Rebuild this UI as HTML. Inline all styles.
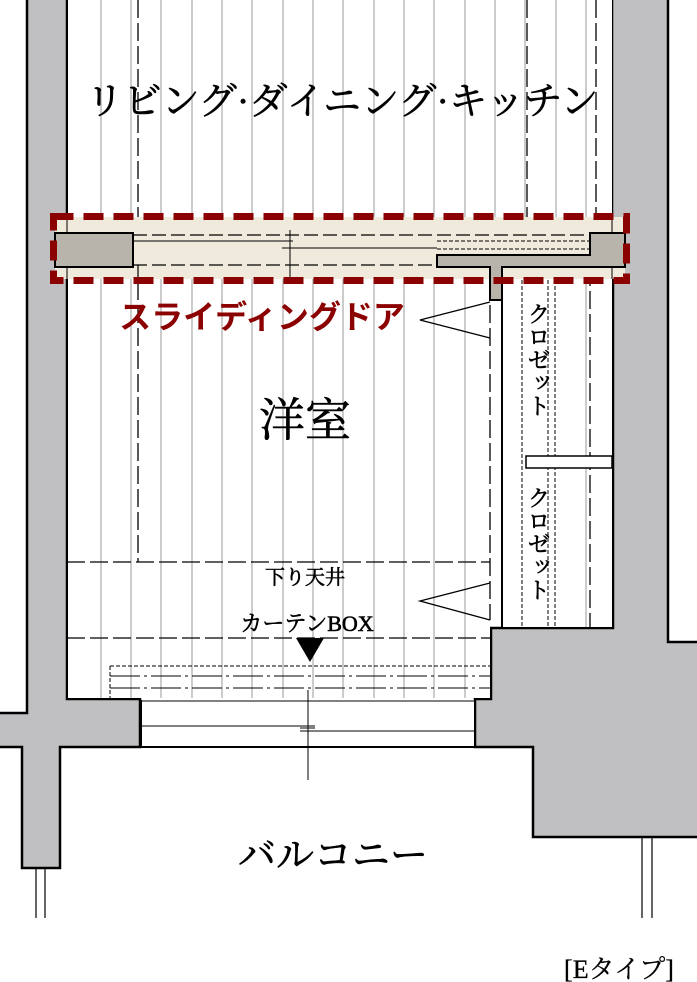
<!DOCTYPE html>
<html><head><meta charset="utf-8"><style>
html,body{margin:0;padding:0;background:#fff;width:697px;height:982px;overflow:hidden}
svg{display:block}
text{font-family:"Liberation Serif","Noto Serif CJK SC",serif;fill:#000;stroke:#000;stroke-width:0.6}
</style></head><body>
<svg width="697" height="982" viewBox="0 0 697 982" xmlns="http://www.w3.org/2000/svg">
<g fill="#c0c0c2" stroke="#000" stroke-width="2.5">
 <path d="M27,-2 H67 V699 H140 V747 H60 V868 H22 V747 H-2 V713 H27 Z"/>
 <path d="M612,-2 H668 V642 H699 V837 H533 V747 H475 V699 H491 V628 H613 V267 H612 Z"/>
</g>
<rect x="68" y="0" width="544" height="233" fill="#fff"/>
<rect x="68" y="268" width="422" height="430" fill="#fff"/>
<rect x="502" y="268" width="110" height="359" fill="#fff"/>
<g stroke="#999" stroke-width="1">
 <path d="M101,0V233M131,0V233M161,0V233M192,0V233M222,0V233M252,0V233M283,0V233M313,0V233M343,0V233M374,0V233M404,0V233M434,0V233M465,0V233M495,0V233M525,0V233M556,0V233M586,0V233"/>
 <path d="M101,268V698M131,268V698M161,268V698M192,268V698M222,268V698M252,268V698M283,268V698M313,268V698M343,268V698M374,268V698M404,268V698M434,268V698M465,268V698"/>
 <path d="M586,268V627"/>
</g>
<g stroke="#000" stroke-width="1.3" fill="none" stroke-dasharray="18,5">
 <path d="M138,0V233M527,0V233M596,0V233"/>
 <path d="M138,282V562M67,562H490M67,638H490M490,282V620"/>
 <path d="M590,268V627"/>
</g>
<g stroke="#000" stroke-width="1" fill="none" stroke-dasharray="4,2">
 <path d="M522,268V627M548,268V627M555,268V627"/>
 <path d="M110,666H490M110,666V698"/>
 <path d="M148,723H315"/>
</g>
<g stroke="#000" stroke-width="1" fill="none" stroke-dasharray="30,4,3,4">
 <path d="M110,676H490M110,688H490"/>
</g>
<rect x="526" y="456" width="86" height="12" fill="#fff" stroke="#000" stroke-width="1.5"/>
<line x1="502" y1="268" x2="502" y2="628" stroke="#000" stroke-width="2"/>
<rect x="141" y="700" width="334" height="46" fill="#fff"/>
<g stroke="#000" stroke-width="2" fill="none">
 <path d="M141,700V747M475,700V747M141,747H475M67,699H141M475,699H491"/>
</g>
<g stroke="#000" stroke-width="1" fill="none">
 <path d="M141,701H475M141,726H315M300,731H475M308,690V780M300,728H315"/>
</g>
<g stroke="#000" stroke-width="1.3" fill="none">
 <path d="M490,302L420,320L490,338"/>
 <path d="M490,583L420,601L490,620"/>
</g>
<g stroke="#000" stroke-width="1.2">
 <path d="M36,868V918M45,868V918M642,837V918M652,837V918"/>
</g>
<rect x="55" y="217" width="570" height="62" fill="#efeadc"/>
<g fill="#b8b4ac" stroke="#000" stroke-width="2">
 <path d="M55,233H133V267H55Z"/>
 <path d="M625,233H590V255H437V267H490V300H502V267H625Z"/>
</g>
<g stroke="#000" stroke-width="1" fill="none">
 <path d="M133,241H293M282,248H437"/>
 <path d="M67,233V217M67,267V279M612,233V217M612,267V279"/>
 <path d="M290,230V282"/>
</g>
<g stroke="#000" stroke-width="1.2" fill="none" stroke-dasharray="14,5">
 <path d="M133,235H590M133,265H437M138,265V282"/>
</g>
<g stroke="#000" stroke-width="1" fill="none" stroke-dasharray="4,2">
 <path d="M437,241H590M437,249H590"/>
</g>
<rect x="53.5" y="216.5" width="573" height="64" fill="none" stroke="#8b0000" stroke-width="7" stroke-dasharray="20,10"/>
<text x="342" y="114" font-size="38" text-anchor="middle">リビング·ダイニング·キッチン</text>
<text x="262" y="328" font-size="32" font-weight="bold" text-anchor="middle" style="fill:#8b0000;stroke:none;font-family:'Liberation Sans','Noto Sans CJK JP',sans-serif">スライディングドア</text>
<text x="305" y="436" font-size="46" text-anchor="middle">洋室</text>
<text x="537" y="302" font-size="23" style="writing-mode:vertical-rl">クロゼット</text>
<text x="537" y="486" font-size="23" style="writing-mode:vertical-rl">クロゼット</text>
<text x="305" y="584" font-size="20" text-anchor="middle">下り天井</text>
<text x="307" y="631" font-size="22" text-anchor="middle">カーテンBOX</text>
<path d="M296,638H324L310,662Z" fill="#000"/>
<text x="333" y="868" font-size="38" text-anchor="middle">バルコニー</text>
<text x="619" y="978" font-size="26" text-anchor="middle" style="stroke-width:0.3">[Eタイプ]</text>
</svg>
</body></html>
